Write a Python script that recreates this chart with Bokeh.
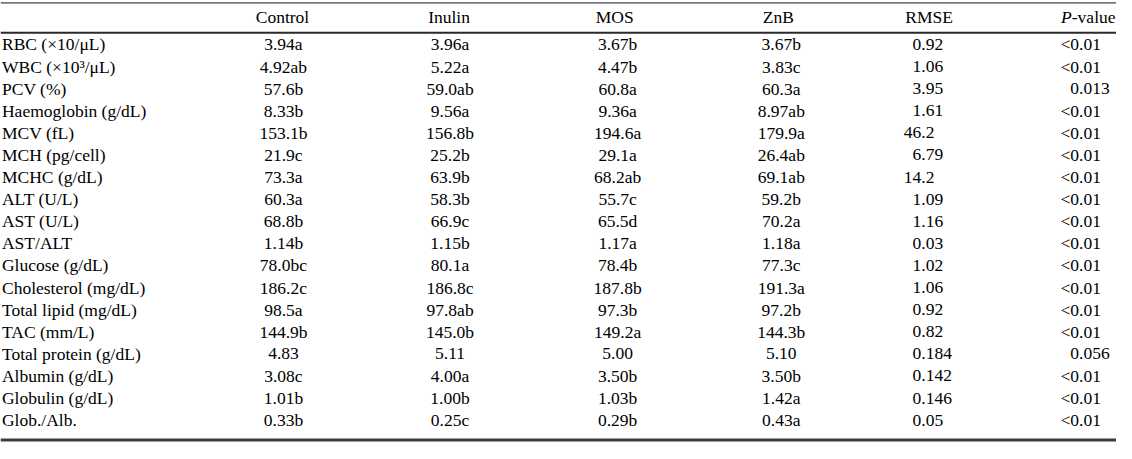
from bokeh.plotting import figure
from bokeh.models import Range1d, ColumnDataSource
from bokeh.core.properties import value
from bokeh.embed import file_html
from bokeh.resources import INLINE

# ---- data ----
headers = ["Control", "Inulin", "MOS", "ZnB", "RMSE"]
labels = ["RBC (×10/μL)", "WBC (×10³/μL)", "PCV (%)", "Haemoglobin (g/dL)", "MCV (fL)",
          "MCH (pg/cell)", "MCHC (g/dL)", "ALT (U/L)", "AST (U/L)", "AST/ALT",
          "Glucose (g/dL)", "Cholesterol (mg/dL)", "Total lipid (mg/dL)", "TAC (mm/L)",
          "Total protein (g/dL)", "Albumin (g/dL)", "Globulin (g/dL)", "Glob./Alb."]
control = ["3.94a", "4.92ab", "57.6b", "8.33b", "153.1b", "21.9c", "73.3a", "60.3a", "68.8b",
           "1.14b", "78.0bc", "186.2c", "98.5a", "144.9b", "4.83", "3.08c", "1.01b", "0.33b"]
inulin = ["3.96a", "5.22a", "59.0ab", "9.56a", "156.8b", "25.2b", "63.9b", "58.3b", "66.9c",
          "1.15b", "80.1a", "186.8c", "97.8ab", "145.0b", "5.11", "4.00a", "1.00b", "0.25c"]
mos = ["3.67b", "4.47b", "60.8a", "9.36a", "194.6a", "29.1a", "68.2ab", "55.7c", "65.5d",
       "1.17a", "78.4b", "187.8b", "97.3b", "149.2a", "5.00", "3.50b", "1.03b", "0.29b"]
znb = ["3.67b", "3.83c", "60.3a", "8.97ab", "179.9a", "26.4ab", "69.1ab", "59.2b", "70.2a",
       "1.18a", "77.3c", "191.3a", "97.2b", "144.3b", "5.10", "3.50b", "1.42a", "0.43a"]
rmse = ["0.92", "1.06", "3.95", "1.61", "46.2", "6.79", "14.2", "1.09", "1.16", "0.03",
        "1.02", "1.06", "0.92", "0.82", "0.184", "0.142", "0.146", "0.05"]
pvalue = ["<0.01", "<0.01", "0.013", "<0.01", "<0.01", "<0.01", "<0.01", "<0.01", "<0.01",
          "<0.01", "<0.01", "<0.01", "<0.01", "<0.01", "0.056", "<0.01", "<0.01", "<0.01"]

# ---- layout (style) ----
FONT = value("Liberation Serif")
FS = 17.5
FSZ = value(f"{FS}px")
ROW0 = 45.5
ROWH = 22.9
HEAD_Y = 17.5
ys = [ROW0 + i * ROWH for i in range(len(labels))]

head_x = [286, 455, 623, 789, 942]
col_x = [287, 456, 626, 792]
rmse_dec = 934
p_dec = 1094

CW = {"<": 0.564, ".": 0.25}
def prefix_w(s):
    pre = s.split(".")[0]
    return -sum(CW.get(c, 0.5) for c in pre) * FS

p = figure(width=1116, height=443, x_range=Range1d(0, 1132), y_range=Range1d(459, 0),
           output_backend="svg", toolbar_location=None, min_border=0,
           background_fill_color="white", border_fill_color="white")
p.axis.visible = False
p.xgrid.visible = False
p.ygrid.visible = False
p.outline_line_color = None

common = dict(text_font=FONT, text_font_size=FSZ, text_color="#000000", text_baseline="middle")

# rules
p.segment(x0=[0], x1=[1132], y0=[2.5], y1=[2.5], line_color="#111111", line_width=1)
p.segment(x0=[0], x1=[1132], y0=[33.5], y1=[33.5], line_color="#2a2a2a", line_width=2)
p.segment(x0=[0], x1=[1132], y0=[455.5], y1=[455.5], line_color="#3a3a3a", line_width=3)

# header
p.text(x=head_x, y=[HEAD_Y] * 5, text=headers, text_align="center", **common)
p.text(x=[1131], y=[HEAD_Y], text=["-value"], text_align="right", **common)
p.text(x=[1131], y=[HEAD_Y], text=["P"], text_align="right", x_offset=-2.499 * FS,
       text_font_style="italic", **common)

# row labels
p.text(x=[1.5] * len(labels), y=ys, text=labels, text_align="left", **common)

# treatment columns
for cx, vals in zip(col_x, [control, inulin, mos, znb]):
    src = ColumnDataSource(dict(x=[cx] * len(vals), y=ys, t=vals))
    p.text(x="x", y="y", text="t", source=src, text_align="center", **common)

# decimal-aligned columns
for dx, vals in [(rmse_dec, rmse), (p_dec, pvalue)]:
    src = ColumnDataSource(dict(x=[dx] * len(vals), y=ys, t=vals,
                                off=[prefix_w(v) for v in vals]))
    p.text(x="x", y="y", text="t", source=src, x_offset="off", text_align="left", **common)

open("out.html", "w").write(file_html(p, INLINE))
